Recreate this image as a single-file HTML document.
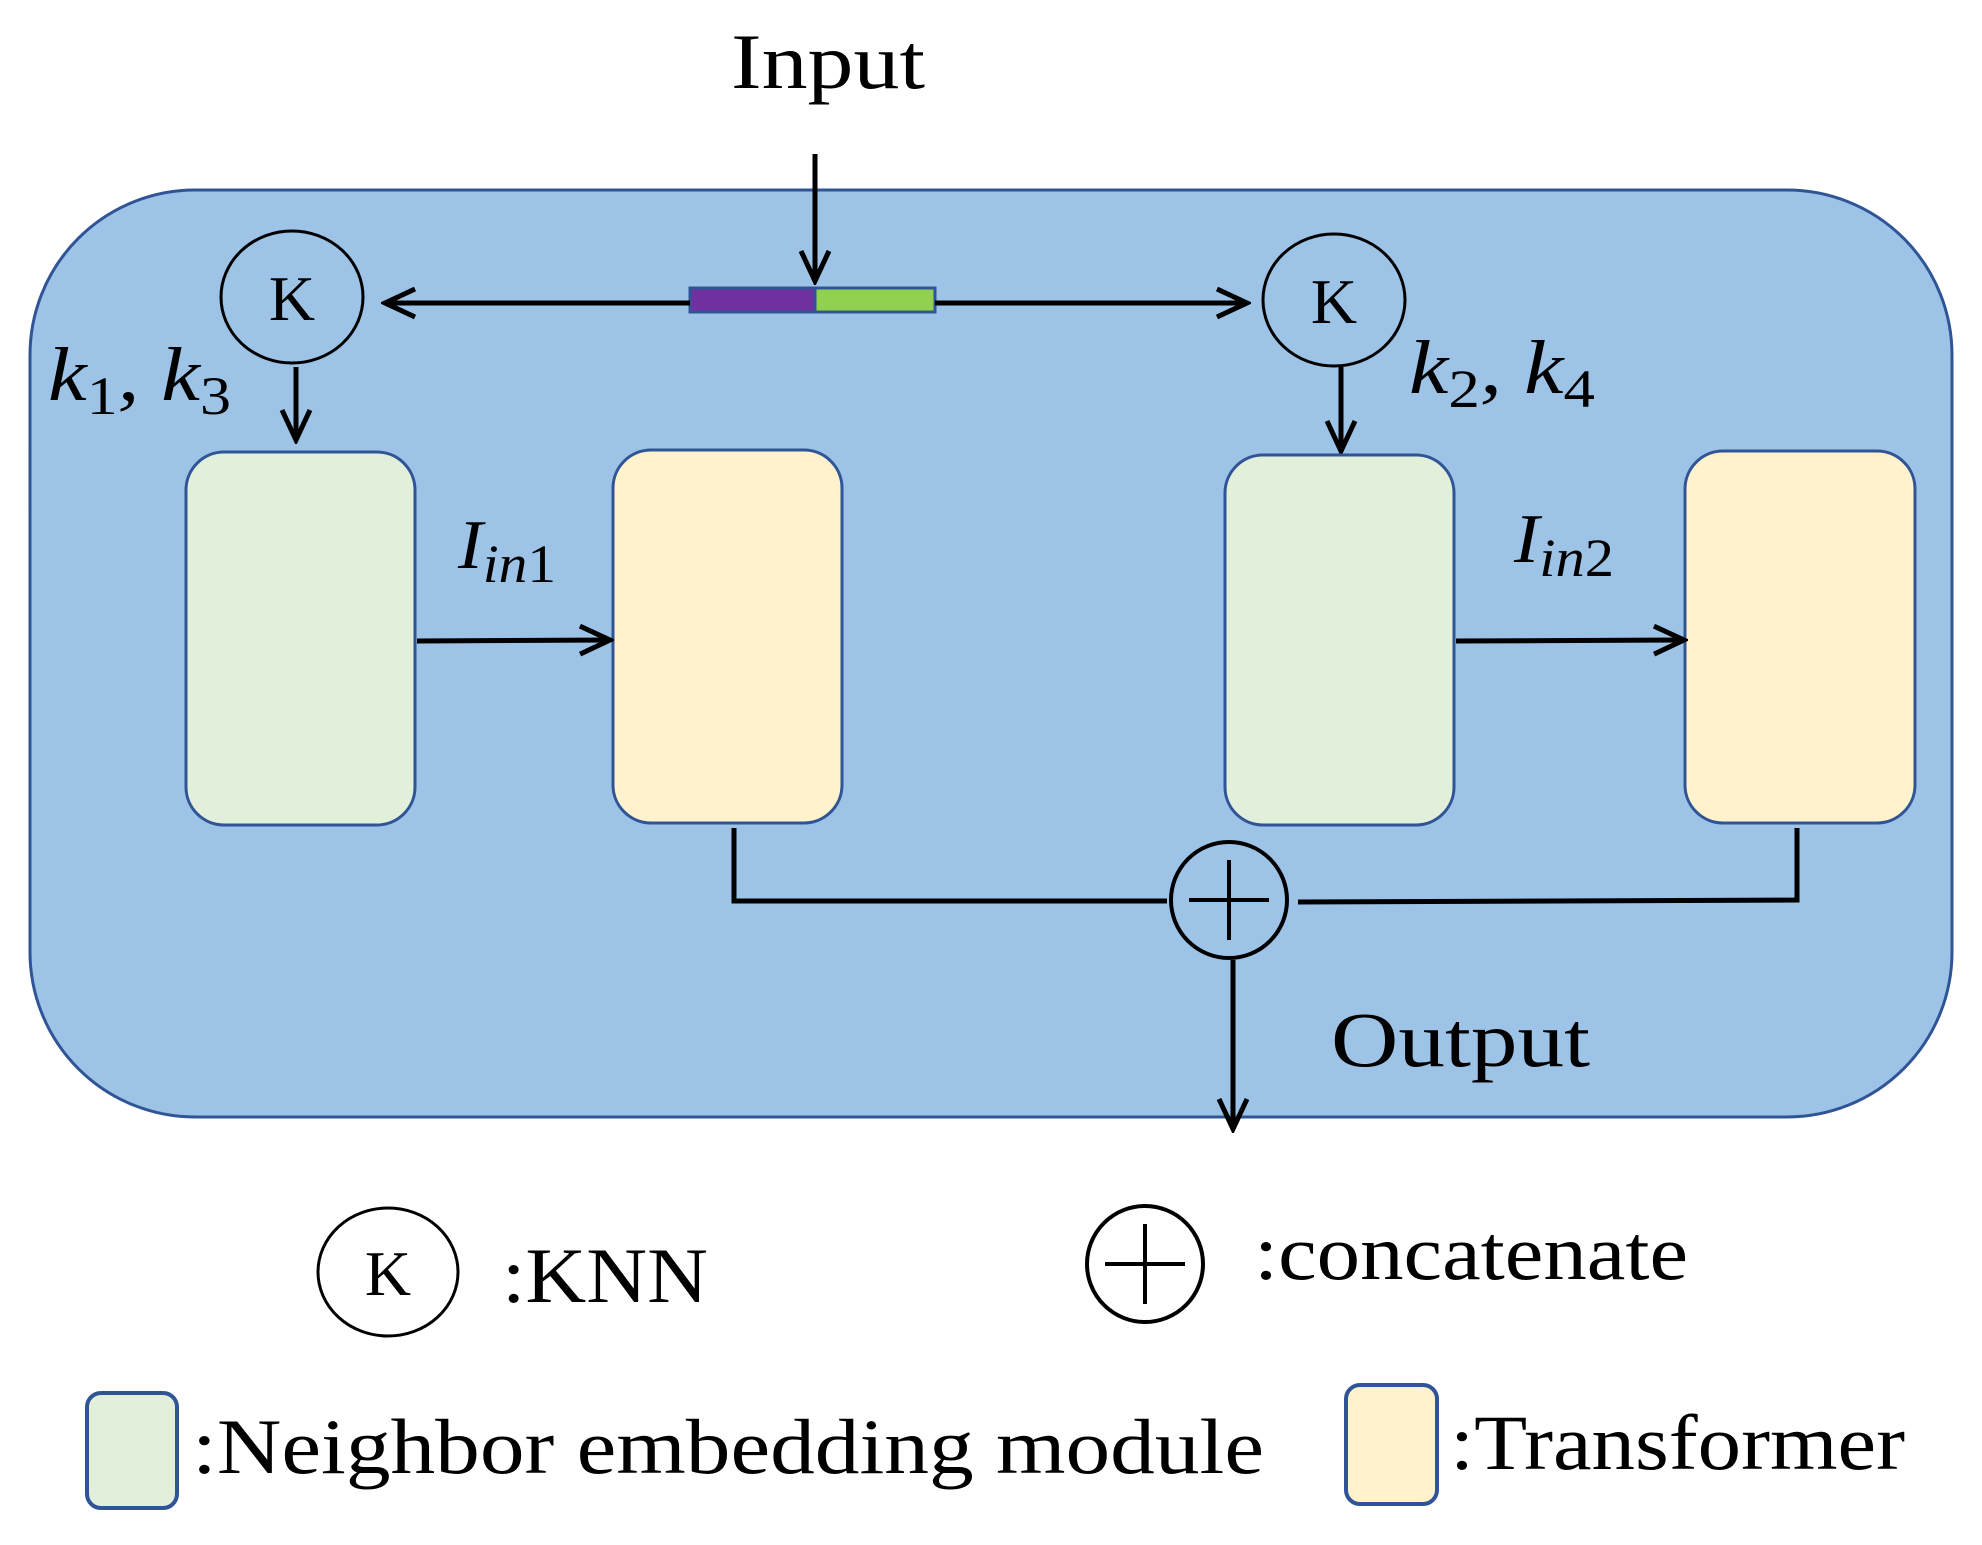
<!DOCTYPE html>
<html><head><style>body{margin:0;background:#fff}</style></head><body>
<svg width="1982" height="1540" viewBox="0 0 1982 1540" xmlns="http://www.w3.org/2000/svg" font-family="Liberation Serif, serif">
<defs>
<marker id="b" viewBox="0 0 40 40" refX="36" refY="20" markerWidth="40" markerHeight="40" markerUnits="userSpaceOnUse" orient="auto"><path d="M6,6 L36,20 L6,34" fill="none" stroke="#000" stroke-width="5"/></marker></defs>
<rect x="30" y="190" width="1922" height="927" rx="165" fill="#9dc3e6" stroke="#2f5597" stroke-width="3"/>
<text x="731" y="88" font-size="78" textLength="194" lengthAdjust="spacingAndGlyphs">Input</text>
<line x1="815" y1="154" x2="815" y2="281" stroke="#000" stroke-width="5" marker-end="url(#b)"/>
<rect x="690" y="288" width="125" height="24" fill="#7030a0" stroke="#2f5597" stroke-width="3"/>
<rect x="815" y="288" width="120" height="24" fill="#92d050" stroke="#2f5597" stroke-width="3"/>
<line x1="690" y1="303" x2="385" y2="303" stroke="#000" stroke-width="5" marker-end="url(#b)"/>
<line x1="935" y1="303" x2="1247" y2="303" stroke="#000" stroke-width="5" marker-end="url(#b)"/>
<ellipse cx="292" cy="297" rx="71" ry="66" fill="none" stroke="#000" stroke-width="3"/>
<text x="292" y="320" font-size="64" text-anchor="middle">K</text>
<ellipse cx="1334" cy="300" rx="71" ry="66" fill="none" stroke="#000" stroke-width="3"/>
<text x="1334" y="323" font-size="64" text-anchor="middle">K</text>
<text x="48" y="400" font-size="76" font-style="italic" textLength="183" lengthAdjust="spacingAndGlyphs">k<tspan font-size="54" dy="14" font-style="normal">1</tspan><tspan dy="-14">, k</tspan><tspan font-size="54" dy="14" font-style="normal">3</tspan></text>
<text x="1409" y="393" font-size="76" font-style="italic" textLength="186" lengthAdjust="spacingAndGlyphs">k<tspan font-size="54" dy="14" font-style="normal">2</tspan><tspan dy="-14">, k</tspan><tspan font-size="54" dy="14" font-style="normal">4</tspan></text>
<line x1="296" y1="367" x2="296" y2="440" stroke="#000" stroke-width="5" marker-end="url(#b)"/>
<line x1="1341" y1="367" x2="1341" y2="451" stroke="#000" stroke-width="5" marker-end="url(#b)"/>
<rect x="186" y="452" width="229" height="373" rx="38" fill="#e2efda" stroke="#2f5597" stroke-width="3"/>
<rect x="613" y="450" width="229" height="373" rx="38" fill="#fff2cc" stroke="#2f5597" stroke-width="3"/>
<rect x="1225" y="455" width="229" height="370" rx="38" fill="#e2efda" stroke="#2f5597" stroke-width="3"/>
<rect x="1685" y="451" width="230" height="372" rx="38" fill="#fff2cc" stroke="#2f5597" stroke-width="3"/>
<text x="458" y="568" font-size="70" font-style="italic" textLength="98" lengthAdjust="spacingAndGlyphs">I<tspan font-size="54" dy="14">in</tspan><tspan font-size="54" font-style="normal">1</tspan></text>
<text x="1514" y="562" font-size="70" font-style="italic" textLength="100" lengthAdjust="spacingAndGlyphs">I<tspan font-size="54" dy="14">in</tspan><tspan font-size="54" font-style="normal">2</tspan></text>
<line x1="417" y1="641" x2="610" y2="640" stroke="#000" stroke-width="5" marker-end="url(#b)"/>
<line x1="1456" y1="641" x2="1684" y2="640" stroke="#000" stroke-width="5" marker-end="url(#b)"/>
<polyline points="734,828 734,901 1167,901" fill="none" stroke="#000" stroke-width="5"/>
<polyline points="1797,828 1797,900 1298,902" fill="none" stroke="#000" stroke-width="5"/>
<circle cx="1229" cy="900" r="58" fill="none" stroke="#000" stroke-width="4"/>
<line x1="1189" y1="900" x2="1269" y2="900" stroke="#000" stroke-width="4"/>
<line x1="1229" y1="860" x2="1229" y2="940" stroke="#000" stroke-width="4"/>
<line x1="1233" y1="960" x2="1233" y2="1129" stroke="#000" stroke-width="5" marker-end="url(#b)"/>
<text x="1331" y="1066" font-size="78" textLength="259" lengthAdjust="spacingAndGlyphs">Output</text>
<ellipse cx="388" cy="1272" rx="70" ry="64" fill="none" stroke="#000" stroke-width="3"/>
<text x="388" y="1295" font-size="64" text-anchor="middle">K</text>
<text x="502" y="1302" font-size="78" textLength="206" lengthAdjust="spacingAndGlyphs">:KNN</text>
<circle cx="1145" cy="1264" r="58" fill="none" stroke="#000" stroke-width="4"/>
<line x1="1105" y1="1264" x2="1185" y2="1264" stroke="#000" stroke-width="4"/>
<line x1="1145" y1="1224" x2="1145" y2="1304" stroke="#000" stroke-width="4"/>
<text x="1254" y="1279" font-size="78" textLength="434" lengthAdjust="spacingAndGlyphs">:concatenate</text>
<rect x="87" y="1393" width="90" height="115" rx="14" fill="#e2efda" stroke="#2f5597" stroke-width="4"/>
<text x="192" y="1473" font-size="78" textLength="1072" lengthAdjust="spacingAndGlyphs">:Neighbor embedding module</text>
<rect x="1346" y="1385" width="91" height="119" rx="14" fill="#fff2cc" stroke="#2f5597" stroke-width="4"/>
<text x="1450" y="1469" font-size="78" textLength="455" lengthAdjust="spacingAndGlyphs">:Transformer</text>
</svg>
</body></html>
